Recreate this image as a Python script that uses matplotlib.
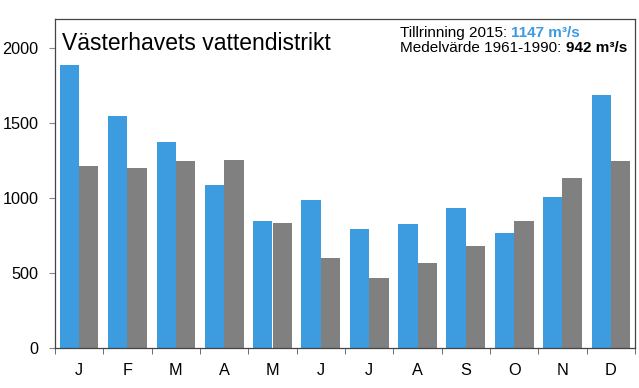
import matplotlib
matplotlib.use("Agg")
import matplotlib.pyplot as plt
import numpy as np

plt.rcParams["font.family"] = ["Liberation Sans", "DejaVu Sans"]

months = ["J", "F", "M", "A", "M", "J", "J", "A", "S", "O", "N", "D"]
inflow_2015 = [1885, 1545, 1375, 1090, 845, 985, 795, 830, 935, 770, 1005, 1690]
mean_1961_1990 = [1215, 1200, 1250, 1255, 835, 600, 470, 570, 680, 850, 1135, 1245]
yticks = [0, 500, 1000, 1500, 2000]

blue = "#3d9be0"
gray = "#808080"

W, H = 639, 388
fig = plt.figure(figsize=(W / 100, H / 100), dpi=100)
ax = fig.add_axes([55 / W, 1 - 348 / H, 580 / W, 329 / H])

x = np.arange(len(months))
w = 0.4
ax.bar(x - w / 2, inflow_2015, width=w, color=blue)
ax.bar(x + w / 2, mean_1961_1990, width=w, color=gray)

ax.set_xlim(-0.5, len(months) - 0.5)
ax.set_ylim(0, 2195)
ax.set_yticks(yticks)
ax.set_yticklabels([str(v) for v in yticks], fontsize=11.7)
ax.set_xticks(x)
ax.set_xticklabels(months, fontsize=11.7)
ax.set_xticks(np.arange(-0.5, len(months)), minor=True)
ax.tick_params(axis="x", which="major", length=0, pad=11)
ax.tick_params(axis="x", which="minor", length=4.5, color="#555555")
ax.tick_params(axis="y", length=4, color="#888888", pad=8)
for s in ax.spines.values():
    s.set_color("#444444")
    s.set_linewidth(0.9)

fig.text(62 / W, 1 - 50 / H, "Västerhavets vattendistrikt",
         fontsize=16.5, va="baseline", ha="left")

t1 = fig.text(400 / W, 1 - 37 / H, "Tillrinning 2015: ",
              fontsize=11, va="baseline", ha="left")
ax.annotate("1147 m³/s", xy=(1, 0), xycoords=t1, va="bottom", ha="left",
            fontsize=11, color=blue, fontweight="bold")
t2 = fig.text(400 / W, 1 - 52.5 / H, "Medelvärde 1961-1990: ",
              fontsize=11, va="baseline", ha="left")
ax.annotate("942 m³/s", xy=(1, 0), xycoords=t2, va="bottom", ha="left",
            fontsize=11, fontweight="bold")

fig.savefig("out.png", dpi=100)
